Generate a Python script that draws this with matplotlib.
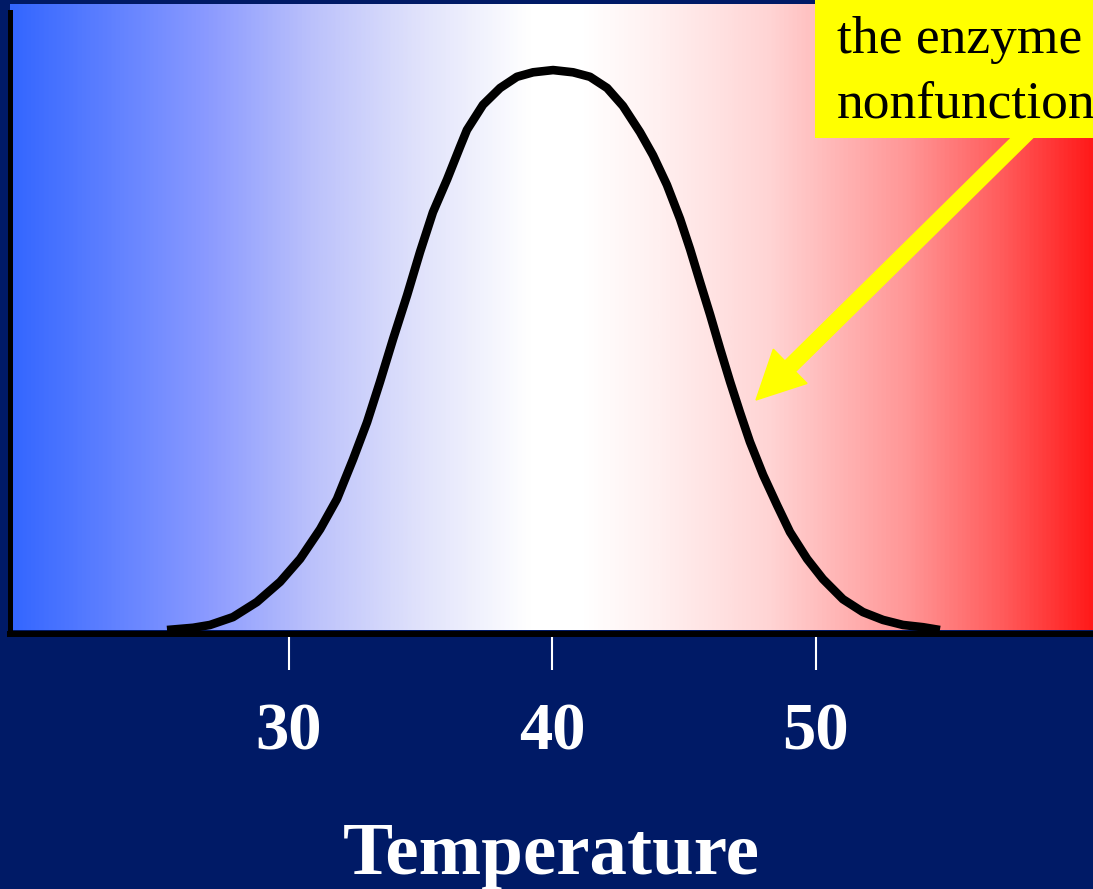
import numpy as np
import matplotlib
matplotlib.use("Agg")
import matplotlib.pyplot as plt
from matplotlib.colors import LinearSegmentedColormap
from matplotlib.patches import Rectangle, FancyArrow

# enzyme activity vs temperature (activity scaled so the optimum is 1)
temp_c = [25.39, 26.38, 27.02, 27.89, 28.80, 29.68, 30.44, 31.20, 31.84, 32.45,
          32.98, 33.47, 33.97, 34.50, 34.99, 35.48, 36.02, 36.51, 36.77, 37.38,
          38.03, 38.67, 39.28, 40.04, 40.80, 41.44, 42.09, 42.69, 43.34, 43.83,
          44.36, 44.86, 45.24, 45.62, 46.00, 46.38, 46.76, 47.13, 47.51, 48.01,
          48.54, 49.03, 49.68, 50.28, 51.04, 51.80, 52.56, 53.32, 54.08, 54.72]
activity = [0.0, 0.004, 0.009, 0.023, 0.050, 0.086, 0.127, 0.180, 0.234, 0.305,
            0.371, 0.443, 0.520, 0.598, 0.675, 0.746, 0.805, 0.863, 0.893, 0.938,
            0.968, 0.988, 0.996, 1.0, 0.996, 0.988, 0.968, 0.936, 0.889, 0.848,
            0.795, 0.734, 0.680, 0.621, 0.563, 0.502, 0.443, 0.389, 0.336, 0.277,
            0.223, 0.175, 0.127, 0.091, 0.055, 0.032, 0.018, 0.009, 0.005, 0.0]

tick_vals = [30, 40, 50]
tick_labels = ["30", "40", "50"]
x_label = "Temperature"
note_lines = ["the enzyme is", "nonfunctional"]

navy = "#001a66"
W, H = 1093, 889

fig = plt.figure(figsize=(W / 100, H / 100), dpi=100, facecolor=navy)
ax = fig.add_axes([10 / W, 259 / H, 1083 / W, 626 / H])

xmin, xmax = 19.43, 60.53
ymax = 1.118

# cold-to-hot background
cmap = LinearSegmentedColormap.from_list(
    "coldhot",
    [(0.0, "#3366ff"), (0.184, "#8c9bff"), (0.28, "#bcc2fb"), (0.377, "#e0e2fb"),
     (0.48, "#ffffff"), (0.53, "#ffffff"), (0.60, "#fff0f0"), (0.70, "#ffd5d5"),
     (0.83, "#ff9696"), (0.92, "#ff5a5a"), (1.0, "#ff1a1a")])
grad = np.linspace(0, 1, 512).reshape(1, -1)
ax.imshow(grad, extent=[xmin, xmax, 0, ymax], aspect="auto", cmap=cmap, zorder=0)

ax.plot(temp_c, activity, color="black", lw=6.2, solid_joinstyle="round",
        solid_capstyle="butt", clip_on=False, zorder=4)

ax.set_xlim(xmin, xmax)
ax.set_ylim(0, ymax)

for side in ["top", "right"]:
    ax.spines[side].set_visible(False)
ax.spines["left"].set_linewidth(3.6)
ax.spines["left"].set_color("black")
ax.spines["left"].set_bounds(0, 1.104)
ax.spines["bottom"].set_linewidth(4.3)
ax.spines["bottom"].set_color("black")
ax.spines["bottom"].set_position(("outward", 3))
ax.spines["left"].set_zorder(5)
ax.spines["bottom"].set_zorder(5)

ax.set_yticks([])
ax.set_xticks(tick_vals)
ax.set_xticklabels(tick_labels, fontfamily="Liberation Serif", fontweight="bold",
                   fontsize=48, color="white")
ax.tick_params(axis="x", direction="out", length=26, width=1.5, color="white", pad=23)
ax.set_xlabel(x_label, fontfamily="Liberation Serif", fontweight="bold",
              fontsize=54, color="white", labelpad=42)

# yellow call-out box with arrow pointing at the falling side of the curve
px = fig.dpi_scale_trans
arrow = FancyArrow(10.30, 7.59, -2.74, -2.70, width=0.15, head_width=0.48,
                   head_length=0.48, length_includes_head=True,
                   color="#ffff00", transform=px, zorder=5)
fig.add_artist(arrow)
box = Rectangle((8.15, (H - 138) / 100), 3.0, 1.38, facecolor="#ffff00",
                edgecolor="none", transform=px, zorder=6)
fig.add_artist(box)
fig.text(837 / W, (H - 53) / H, note_lines[0], fontfamily="Liberation Serif",
         fontsize=38.5, color="black", va="baseline", ha="left", zorder=7)
fig.text(837 / W, (H - 117) / H, note_lines[1], fontfamily="Liberation Serif",
         fontsize=38.5, color="black", va="baseline", ha="left", zorder=7)

fig.savefig("out.png", dpi=100, facecolor=navy)
